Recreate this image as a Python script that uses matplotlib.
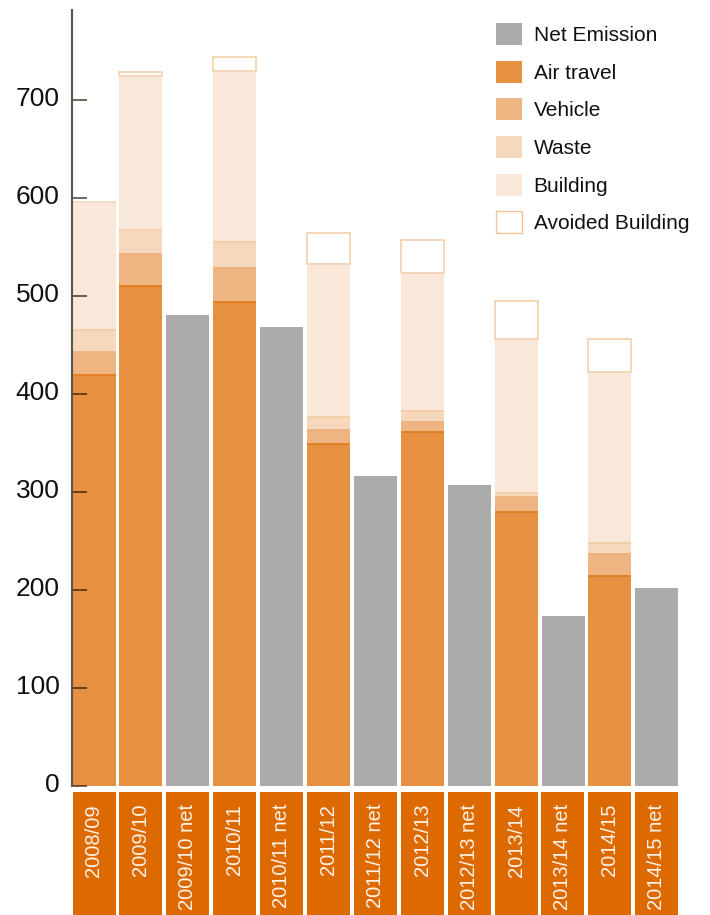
import matplotlib.pyplot as plt
import matplotlib.patches as mpatches
import matplotlib.transforms as mtransforms
import numpy as np

plt.rcParams['font.family'] = ['Liberation Sans', 'DejaVu Sans']

categories = ['2008/09', '2009/10', '2009/10 net', '2010/11', '2010/11 net',
              '2011/12', '2011/12 net', '2012/13', '2012/13 net', '2013/14',
              '2013/14 net', '2014/15', '2014/15 net']

# gross years and their stacked components
gross_idx = [0, 1, 3, 5, 7, 9, 11]
air_travel = [419, 510, 494, 349, 361, 280, 214]
vehicle = [24, 33, 35, 14, 10, 15, 23]
waste = [22, 24, 26, 14, 12, 4, 11]
building = [131, 158, 175, 156, 141, 157, 175]
avoided_building = [0, 4, 14, 31, 33, 39, 33]

# net emission bars
net_idx = [2, 4, 6, 8, 10, 12]
net_emission = [481, 468, 316, 307, 173, 202]

c_net = '#ababab'
c_air = '#e69142'
c_vehicle = '#eeb482'
c_waste = '#f6d9bd'
c_building = '#f9e8d9'
c_avoided_edge = '#f5cfa8'
c_label = '#dd6a00'

W, H = 710, 915
fig = plt.figure(figsize=(W / 100, H / 100), dpi=100)

x_left, x_right = 72, 690
xmin = -(94 - 72) / 46.9
xmax = 12 + (x_right - 656.8) / 46.9
ax = fig.add_axes([x_left / W, (H - 786) / H, (x_right - x_left) / W, 776 / H])
bw = 43 / 46.9

gx = np.array(gross_idx)
bottom = np.zeros(len(gx))
segments = [(air_travel, c_air, '#e27a1c'),
            (vehicle, c_vehicle, '#eeb07a'),
            (waste, c_waste, '#f3caa4'),
            (building, c_building, '#f4d6bb')]
for vals, col, line_col in segments:
    vals = np.array(vals, dtype=float)
    ax.bar(gx, vals, bw, bottom=bottom, color=col, linewidth=0, zorder=2)
    top = bottom + vals
    ax.hlines(top, gx - bw / 2, gx + bw / 2, color=line_col, lw=1.2, zorder=3)
    bottom = top

av = np.array(avoided_building, dtype=float)
mask = av > 0
ax.bar(gx[mask], av[mask], bw, bottom=bottom[mask], facecolor='white',
       edgecolor=c_avoided_edge, linewidth=1.2, zorder=2)

ax.bar(net_idx, net_emission, bw, color=c_net, linewidth=0, zorder=2)

ax.set_xlim(xmin, xmax)
ax.set_ylim(0, 792)
ax.set_xticks([])
ax.set_yticks(range(0, 800, 100))
for s in ['top', 'right', 'bottom']:
    ax.spines[s].set_visible(False)
ax.spines['left'].set_color('#555555')
ax.spines['left'].set_linewidth(1.5)
ax.spines['left'].set_zorder(5)
ax.tick_params(axis='y', direction='in', length=11, width=1.3,
               color=(0.15, 0.08, 0.0, 0.7), labelsize=19, pad=9,
               labelcolor='#111111')
for t in ax.yaxis.get_major_ticks():
    t.tick1line.set_zorder(6)
ax.set_axisbelow(False)
shift = mtransforms.ScaledTranslation(0, 4 / 100, fig.dpi_scale_trans)
for lab in ax.get_yticklabels():
    lab.set_transform(lab.get_transform() + shift)

# category labels in orange boxes below the bars
lax = fig.add_axes([x_left / W, 0, (x_right - x_left) / W, 123 / H])
lax.set_xlim(xmin, xmax)
lax.set_ylim(0, 123)
lax.axis('off')
xs = np.arange(len(categories))
lax.bar(xs, 123, bw, color=c_label, linewidth=0)
for i, name in enumerate(categories):
    lax.text(i, 111, name, rotation=90, ha='center', va='top',
             color='#fff3e8', fontsize=14.5)

handles = [
    mpatches.Patch(facecolor=c_net, edgecolor='none', label='Net Emission'),
    mpatches.Patch(facecolor=c_air, edgecolor='none', label='Air travel'),
    mpatches.Patch(facecolor=c_vehicle, edgecolor='none', label='Vehicle'),
    mpatches.Patch(facecolor=c_waste, edgecolor='none', label='Waste'),
    mpatches.Patch(facecolor=c_building, edgecolor='none', label='Building'),
    mpatches.Patch(facecolor='white', edgecolor='#f3c497', linewidth=1,
                   label='Avoided Building'),
]
fig.legend(handles=handles, loc='upper left',
           bbox_to_anchor=(496 / W, 1 - 23 / H), frameon=False,
           fontsize=15, handlelength=1.25, handleheight=1.25,
           handletextpad=0.55, labelspacing=0.75, borderpad=0,
           borderaxespad=0, labelcolor='#111111')

fig.savefig('out.png', dpi=100)
